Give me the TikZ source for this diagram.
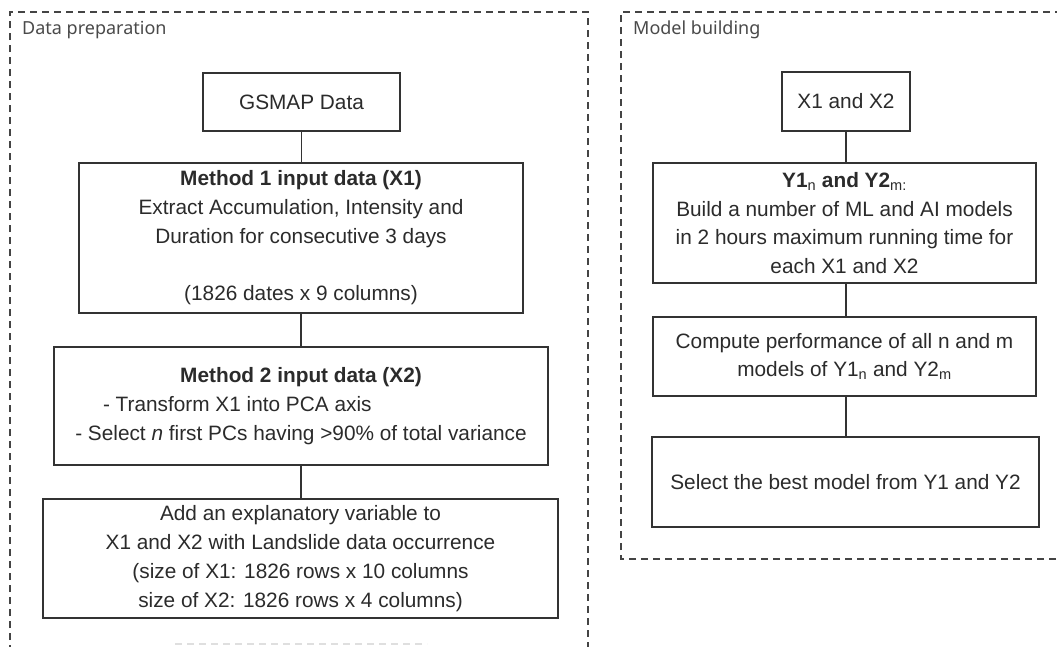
\documentclass[tikz,border=0pt]{standalone}
\usepackage{fontspec}
\setmainfont{Liberation Sans}
\newfontfamily\titlefont{Noto Sans}
\definecolor{boxline}{HTML}{333333}
\definecolor{txt}{HTML}{2B2B2B}
\definecolor{dash}{HTML}{444444}
\definecolor{titlec}{HTML}{4A4A4A}
\begin{document}
\begin{tikzpicture}[x=1pt,y=-1pt,
  stepbox/.style={draw=boxline, line width=1.3pt, fill=white, text=txt, align=center,
    inner sep=0pt, font=\fontsize{20.8}{28.8}\selectfont},
  panel/.style={draw=dash, line width=1.2pt, dash pattern=on 7pt off 5pt},
  paneltitle/.style={anchor=west, text=titlec, inner sep=0pt, font=\titlefont\fontsize{18}{22}\selectfont},
  link/.style={draw=boxline, line width=1.3pt}]
\useasboundingbox (0,0) rectangle (1057,646);
\clip (0,0) rectangle (1057,646);
\fill[white] (0,0) rectangle (1057,646);
% panels
\draw[panel] (10,700) -- (10,12) -- (588,12) -- (588,700);
\draw[panel] (1080,559) -- (621,559) -- (621,12) -- (1080,12);
\draw[draw=gray!25, line width=1.2pt, dash pattern=on 7pt off 5pt] (175,644) -- (427,644);
\node[paneltitle] (t1) at (22,30) {Data preparation};
\node[paneltitle] (t2) at (633,30) {Model building};
% left column
\node[stepbox, minimum width=197pt, minimum height=58pt] (gsmap) at (301.5,102) {GSMAP Data};
\node[stepbox, minimum width=444pt, minimum height=150pt] (m1) at (301,238)
  {\textbf{Method 1 input data (X1)}\\ Extract Accumulation, Intensity and\\ Duration for consecutive 3 days\\[28.8pt] (1826 dates x 9 columns)};
\node[stepbox, minimum width=494pt, minimum height=118pt] (m2) at (301,406)
  {\textbf{Method 2 input data (X2)}\\
   \makebox[448pt][l]{\hspace{26pt}- Transform X1 into PCA axis}\\
   - Select \textit{n} first PCs having >90\% of total variance};
\node[stepbox, minimum width=515pt, minimum height=119pt] (add) at (300.5,558.5)
  {Add an explanatory variable to\\ X1 and X2 with Landslide data occurrence\\ (size of X1: 1826 rows x 10 columns\\ size of X2: 1826 rows x 4 columns)};
% right column
\node[stepbox, minimum width=128pt, minimum height=59pt] (x12) at (846,101.5) {X1 and X2};
\node[stepbox, minimum width=383pt, minimum height=120pt] (y) at (844.5,223)
  {\textbf{Y1}\textsubscript{n} \textbf{and Y2}\textsubscript{m:}\\ Build a number of ML and AI models\\ in 2 hours maximum running time for\\ each X1 and X2};
\node[stepbox, minimum width=383pt, minimum height=79pt] (perf) at (844.5,356.5)
  {Compute performance of all n and m\\ models of Y1\textsubscript{n} and Y2\textsubscript{m}};
\node[stepbox, minimum width=387pt, minimum height=90pt] (sel) at (845.5,482)
  {Select the best model from Y1 and Y2};
% connectors
\draw[link] (gsmap.south) -- (gsmap.south |- m1.north);
\draw[link] (m1.south) -- (m1.south |- m2.north);
\draw[link] (m2.south) -- (m2.south |- add.north);
\draw[link] (x12.south) -- (x12.south |- y.north);
\draw[link] (x12.south |- y.south) -- (x12.south |- perf.north);
\draw[link] (x12.south |- perf.south) -- (x12.south |- sel.north);
\end{tikzpicture}
\end{document}
